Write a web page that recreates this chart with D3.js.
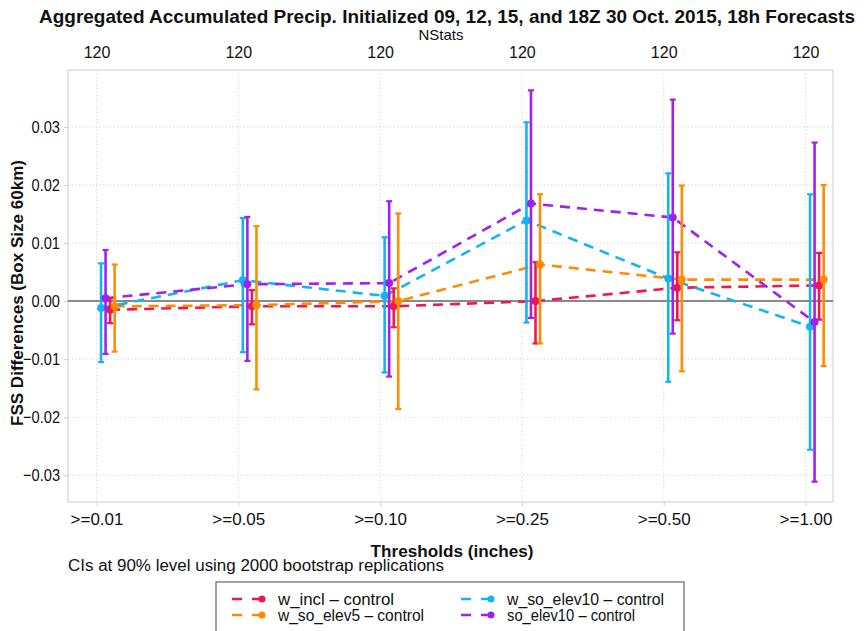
<!DOCTYPE html>
<html>
<head>
<meta charset="utf-8">
<script src="https://cdn.jsdelivr.net/npm/d3@7"></script>
<style>
  html, body { margin: 0; padding: 0; background: #fff; }
  svg { display: block; }
  text { font-family: "Liberation Sans", Arial, Helvetica, sans-serif; fill: #111; }
</style>
</head>
<body>
<svg id="chart" width="866" height="631"></svg>
<script>
// ---------------- data ----------------
const categories = [">=0.01", ">=0.05", ">=0.10", ">=0.25", ">=0.50", ">=1.00"];
const nstats = [120, 120, 120, 120, 120, 120];
const yTicks = [-0.03, -0.02, -0.01, 0.00, 0.01, 0.02, 0.03];

const seriesNames = ["w_incl – control", "w_so_elev5 – control", "w_so_elev10 – control", "so_elev10 – control"];
const seriesColors = ["#F2174B", "#FF8C00", "#14B4F2", "#A020F0"];
const seriesDodge = [3, 4, 1, 2];   // dodge order within a threshold group

const wInclValue  = [-0.0015, -0.0009, -0.0009, 0.0000, 0.0023, 0.0027];
const wInclLow    = [-0.0038, -0.0040, -0.0045, -0.0073, -0.0033, -0.0032];
const wInclHigh   = [0.0005, 0.0019, 0.0022, 0.0067, 0.0084, 0.0083];

const wSoE5Value  = [-0.0009, -0.0007, 0.0000, 0.0063, 0.0037, 0.0037];
const wSoE5Low    = [-0.0087, -0.0152, -0.0186, -0.0073, -0.0121, -0.0112];
const wSoE5High   = [0.0063, 0.0129, 0.0151, 0.0184, 0.0199, 0.0200];

const wSoE10Value = [-0.0012, 0.0036, 0.0009, 0.0139, 0.0039, -0.0044];
const wSoE10Low   = [-0.0105, -0.0088, -0.0123, -0.0037, -0.0139, -0.0256];
const wSoE10High  = [0.0065, 0.0143, 0.0110, 0.0308, 0.0220, 0.0184];

const soE10Value  = [0.0005, 0.0029, 0.0031, 0.0168, 0.0144, -0.0036];
const soE10Low    = [-0.0091, -0.0103, -0.0130, -0.0029, -0.0056, -0.0311];
const soE10High   = [0.0088, 0.0145, 0.0172, 0.0363, 0.0347, 0.0273];

const seriesValues = [wInclValue, wSoE5Value, wSoE10Value, soE10Value];
const seriesLow = [wInclLow, wSoE5Low, wSoE10Low, soE10Low];
const seriesHigh = [wInclHigh, wSoE5High, wSoE10High, soE10High];

// ---------------- layout ----------------
const svg = d3.select("#chart");
const plot = { left: 68, right: 833, top: 70, bottom: 502 };

const x = d3.scaleLinear().domain([0, 5]).range([96.5, 805.5]);
const dodgeStep = 0.032;
const y = d3.scaleLinear().domain([-0.0346, 0.0398]).range([plot.bottom, plot.top]);

// plot frame
svg.append("rect")
  .attr("x", plot.left).attr("y", plot.top)
  .attr("width", plot.right - plot.left).attr("height", plot.bottom - plot.top)
  .attr("fill", "none").attr("stroke", "#d4d4d4").attr("stroke-width", 1.2);

// grid
const grid = svg.append("g");
grid.selectAll("line.vg").data(categories).join("line")
  .attr("x1", (d, i) => x(i)).attr("x2", (d, i) => x(i))
  .attr("y1", plot.top).attr("y2", plot.bottom)
  .attr("stroke", "#e2e2e2").attr("stroke-width", 1.2).attr("stroke-dasharray", "1.5,2");
grid.selectAll("line.hg").data(yTicks).join("line")
  .attr("x1", plot.left).attr("x2", plot.right)
  .attr("y1", d => y(d)).attr("y2", d => y(d))
  .attr("stroke", "#e2e2e2").attr("stroke-width", 1.2).attr("stroke-dasharray", "1.5,2");

// zero line
svg.append("line")
  .attr("x1", plot.left).attr("x2", plot.right)
  .attr("y1", y(0)).attr("y2", y(0))
  .attr("stroke", "#666").attr("stroke-width", 1.5);

// left axis
const yAxis = d3.axisLeft(y).tickValues(yTicks).tickFormat(d3.format(".2f")).tickSize(4).tickPadding(4);
const gy = svg.append("g").attr("transform", `translate(${plot.left},0)`).call(yAxis);
gy.select(".domain").remove();
gy.selectAll(".tick line").attr("stroke", "#d0d0d0");
gy.selectAll(".tick text").style("font-size", "17px").attr("fill", "#222")
  .text(d => d3.format(".2f")(d).replace("-", "\u2212"))
  .each(function () {
    const len = this.getComputedTextLength();
    d3.select(this).attr("textLength", len * 0.86).attr("lengthAdjust", "spacingAndGlyphs");
  });

// bottom axis
const bx = d3.scaleLinear().domain([0, 5]).range(x.range());
const xAxis = d3.axisBottom(bx).tickValues(d3.range(categories.length)).tickFormat(i => categories[i]).tickSize(4).tickPadding(7);
const gx = svg.append("g").attr("transform", `translate(0,${plot.bottom})`).call(xAxis);
gx.select(".domain").remove();
gx.selectAll(".tick line").attr("stroke", "#d0d0d0");
gx.selectAll(".tick text").style("font-size", "17px").attr("fill", "#222");

// top axis (NStats)
const tAxis = d3.axisTop(bx).tickValues(d3.range(nstats.length)).tickFormat(i => nstats[i]).tickSize(0).tickPadding(12);
const gt = svg.append("g").attr("transform", `translate(0,${plot.top})`).call(tAxis);
gt.select(".domain").remove();
gt.selectAll(".tick text").style("font-size", "16px").attr("fill", "#222");

// ---------------- series ----------------
const drawOrder = [0, 1, 2, 3];
const line = d3.line().x(d => d.x).y(d => d.y);

drawOrder.forEach(s => {
  const pts = seriesValues[s].map((v, i) => ({ x: x(i + seriesDodge[s] * dodgeStep), y: y(v) }));
  svg.append("path")
    .attr("d", line(pts))
    .attr("fill", "none").attr("stroke", seriesColors[s])
    .attr("stroke-width", 2.6).attr("stroke-dasharray", "10,7");
});

drawOrder.forEach(s => {
  const g = svg.append("g").attr("stroke", seriesColors[s]).attr("fill", seriesColors[s]);
  seriesValues[s].forEach((v, i) => {
    const cx = x(i + seriesDodge[s] * dodgeStep);
    const lo = y(seriesLow[s][i]), hi = y(seriesHigh[s][i]);
    g.append("line").attr("x1", cx).attr("x2", cx).attr("y1", lo).attr("y2", hi).attr("stroke-width", 2.6);
    g.append("line").attr("x1", cx - 3).attr("x2", cx + 3).attr("y1", lo).attr("y2", lo).attr("stroke-width", 2.2);
    g.append("line").attr("x1", cx - 3).attr("x2", cx + 3).attr("y1", hi).attr("y2", hi).attr("stroke-width", 2.2);
    g.append("circle").attr("cx", cx).attr("cy", y(v)).attr("r", 4).attr("stroke", "none");
  });
});

// ---------------- texts ----------------
svg.append("text").attr("x", 447).attr("y", 23).attr("text-anchor", "middle")
  .style("font-size", "19px").style("font-weight", "bold")
  .attr("textLength", 816).attr("lengthAdjust", "spacingAndGlyphs")
  .text("Aggregated Accumulated Precip. Initialized 09, 12, 15, and 18Z 30 Oct. 2015, 18h Forecasts");

svg.append("text").attr("x", 441).attr("y", 40).attr("text-anchor", "middle")
  .style("font-size", "15px").attr("fill", "#222").text("NStats");

svg.append("text").attr("transform", "translate(23,293) rotate(-90)").attr("text-anchor", "middle")
  .style("font-size", "17px").style("font-weight", "bold")
  .attr("textLength", 266).attr("lengthAdjust", "spacingAndGlyphs")
  .text("FSS Differences (Box Size 60km)");

svg.append("text").attr("x", 452).attr("y", 557).attr("text-anchor", "middle")
  .style("font-size", "17px").style("font-weight", "bold")
  .attr("textLength", 163).attr("lengthAdjust", "spacingAndGlyphs")
  .text("Thresholds (inches)");

svg.append("text").attr("x", 68).attr("y", 571)
  .style("font-size", "16px").attr("fill", "#222")
  .attr("textLength", 376).attr("lengthAdjust", "spacingAndGlyphs")
  .text("CIs at 90% level using 2000 bootstrap replications");

// ---------------- legend ----------------
const legend = svg.append("g");
legend.append("rect").attr("x", 216).attr("y", 582).attr("width", 468).attr("height", 60)
  .attr("fill", "#fff").attr("stroke", "#666").attr("stroke-width", 1.2);

const legendPos = [
  { x: 232, y: 599 }, { x: 232, y: 615 },
  { x: 461, y: 599 }, { x: 461, y: 615 }
];
const legendTextLen = [116, 146, 157, 128];
seriesNames.forEach((name, s) => {
  const p = legendPos[s];
  const g = legend.append("g").attr("transform", `translate(${p.x},${p.y})`);
  g.append("line").attr("x1", 0).attr("x2", 30).attr("y1", 0).attr("y2", 0)
    .attr("stroke", seriesColors[s]).attr("stroke-width", 2.6).attr("stroke-dasharray", "10,10");
  g.append("circle").attr("cx", 30).attr("cy", 0).attr("r", 3.5).attr("fill", seriesColors[s]);
  g.append("text").attr("x", 46).attr("y", 5.5)
    .style("font-size", "16px").attr("fill", "#222")
    .attr("textLength", legendTextLen[s]).attr("lengthAdjust", "spacingAndGlyphs")
    .text(name);
});
</script>
</body>
</html>
